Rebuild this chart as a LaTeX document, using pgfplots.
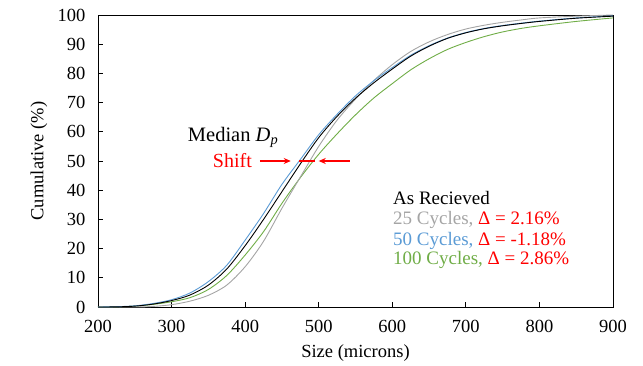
\documentclass[border=0pt]{standalone}
\usepackage{fontspec}
\setmainfont{Liberation Serif}
\usepackage{pgfplots}
\pgfplotsset{compat=1.18}
\usetikzlibrary{arrows.meta}
\definecolor{cgray}{RGB}{165,165,165}
\definecolor{cblue}{RGB}{91,155,213}
\definecolor{cgreen}{RGB}{112,173,71}
\begin{document}
\begin{tikzpicture}
\begin{axis}[name=ax, width=515pt, height=292pt, scale only axis,
  xmin=200, xmax=900, ymin=0, ymax=100,
  xtick={200,300,...,900}, ytick={0,10,...,100},
  tick align=inside, xtick pos=bottom, ytick pos=left,
  major tick length=5pt,
  tick style={black, line width=0.8pt},
  axis line style={black, line width=0.9pt},
  ticklabel style={font=\fontsize{18.5}{21}\selectfont},
  /pgf/number format/assume math mode=true,
  xticklabel style={yshift=-10pt}, yticklabel style={xshift=-9pt},
  xlabel={Size (microns)}, ylabel={Cumulative (\%)},
  label style={font=\fontsize{18.5}{21}\selectfont},
  xlabel style={at={(axis description cs:0.5,-0.157)}, anchor=center},
  ylabel style={at={(axis description cs:-0.1146,0.5)}, anchor=center},
  clip=false,
  every axis plot/.append style={line width=0.9pt, no markers, smooth, tension=0.5}
]
% 100 Cycles
\addplot[cgreen] coordinates {
(200,0) (225,0.05) (250,0.3) (275,0.9) (300,1.8) (325,3.2) (350,6.0) (375,10.8)
(400,17.8) (425,25.8) (450,35.5) (475,44.3) (500,52.3) (525,59.3) (550,65.8)
(575,71.6) (600,76.5) (625,81.2) (650,85.0) (675,88.2) (700,90.6) (725,92.6)
(750,94.2) (775,95.4) (800,96.3) (850,97.8) (900,99.0)};
% 25 Cycles
\addplot[cgray] coordinates {
(200,0) (250,0) (275,0.2) (300,0.8) (325,2.0) (350,4.0) (375,7.5) (400,13.8)
(425,22.5) (450,33.8) (475,44.5) (500,55.0) (525,64.0) (550,71.2) (575,77.6)
(600,83.0) (625,87.5) (650,90.8) (675,93.3) (700,95.2) (725,96.5) (750,97.5)
(775,98.3) (800,99.0) (850,99.6) (900,100)};
% 50 Cycles
\addplot[cblue] coordinates {
(200,0) (225,0.1) (250,0.4) (275,1.2) (300,2.5) (325,4.8) (350,8.7) (375,14.3)
(400,22.9) (425,32.0) (450,42.0) (475,50.5) (500,59.0) (525,66.0) (550,72.3)
(575,77.5) (600,82.0) (625,86.2) (650,89.5) (675,92.1) (700,94.0) (725,95.4)
(750,96.4) (775,97.2) (800,97.9) (850,99.0) (900,99.7)};
% As Received
\addplot[black] coordinates {
(200,0) (225,0.05) (250,0.3) (275,1.0) (300,2.2) (325,4.1) (350,7.5) (375,13.0)
(400,21.0) (425,30.0) (450,39.5) (475,49.0) (500,58.0) (525,65.3) (550,71.5)
(575,76.8) (600,81.5) (625,85.9) (650,89.3) (675,92.0) (700,93.9) (725,95.3)
(750,96.3) (775,97.1) (800,97.8) (850,98.9) (900,99.6)};

\draw[red, line width=1.4pt, -{Stealth[length=7pt,width=6pt]}] (axis cs:420,50) -- (axis cs:462,50);
\draw[red, line width=1.4pt] (axis cs:473,50) -- (axis cs:495,50);
\draw[red, line width=1.4pt, -{Stealth[length=7pt,width=6pt]}] (axis cs:542,50) -- (axis cs:500,50);

\node[anchor=base west, inner sep=0pt, font=\fontsize{20.5}{24}\selectfont] at (axis cs:322,56.6) {Median \textit{D}\textsubscript{\textit{p}}};
\node[anchor=base west, inner sep=0pt, text=red, font=\fontsize{20}{24}\selectfont] at (axis cs:356,47.9) {Shift};

\node[anchor=west, inner sep=0pt, font=\fontsize{19}{22}\selectfont] at (axis cs:601,37.3) {As Recieved};
\node[anchor=west, inner sep=0pt, font=\fontsize{19}{22}\selectfont] at (axis cs:601,29.8) {\textcolor{cgray}{25 Cycles,} \textcolor{red}{Δ = 2.16\%}};
\node[anchor=west, inner sep=0pt, font=\fontsize{19}{22}\selectfont] at (axis cs:601,22.6) {\textcolor{cblue}{50 Cycles,} \textcolor{red}{Δ = -1.18\%}};
\node[anchor=west, inner sep=0pt, font=\fontsize{19}{22}\selectfont] at (axis cs:601,16.1) {\textcolor{cgreen}{100 Cycles,} \textcolor{red}{Δ = 2.86\%}};
\end{axis}
\path ([shift={(-98pt,-58pt)}]ax.south west) rectangle ([shift={(30pt,15pt)}]ax.north east);
\end{tikzpicture}
\end{document}
